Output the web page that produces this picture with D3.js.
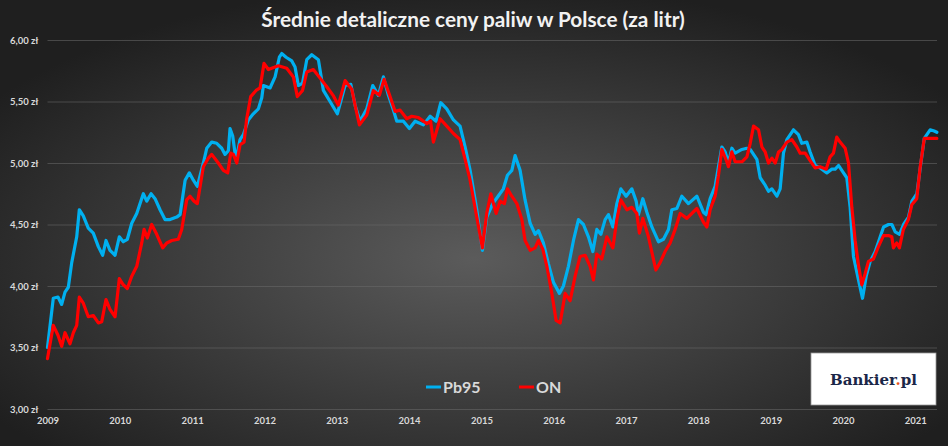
<!DOCTYPE html>
<html>
<head>
<meta charset="utf-8">
<script src="https://cdn.jsdelivr.net/npm/d3@7"></script>
<style>
  body { margin: 0; background: #222; }
  svg { display: block; }
</style>
</head>
<body>
<div id="chart"></div>
<script>
// Etykiety osi
const yearTicks = [2009, 2010, 2011, 2012, 2013, 2014, 2015, 2016, 2017, 2018, 2019, 2020, 2021];
const priceTicks = [3.0, 3.5, 4.0, 4.5, 5.0, 5.5, 6.0];
const seriesNames = ["Pb95", "ON"];

// Pb95 - data (ułamek roku) i cena
const pb95Years = [
  2009.00, 2009.08, 2009.145, 2009.196, 2009.242, 2009.288, 2009.335, 2009.404, 2009.44, 2009.495,
  2009.564, 2009.633, 2009.703, 2009.763, 2009.809, 2009.864, 2009.934, 2009.993, 2010.048, 2010.104,
  2010.165, 2010.234, 2010.325, 2010.372, 2010.432, 2010.487, 2010.556, 2010.625, 2010.694, 2010.787,
  2010.833, 2010.903, 2010.961, 2011.017, 2011.072, 2011.155, 2011.202, 2011.271, 2011.34, 2011.409,
  2011.455, 2011.501, 2011.524, 2011.561, 2011.607, 2011.662, 2011.708, 2011.777, 2011.846, 2011.916,
  2011.963, 2011.985, 2012.077, 2012.147, 2012.206, 2012.239, 2012.299, 2012.378, 2012.423, 2012.469,
  2012.527, 2012.585, 2012.654, 2012.746, 2012.815, 2012.907, 2013.008, 2013.115, 2013.194, 2013.253,
  2013.322, 2013.415, 2013.498, 2013.575, 2013.645, 2013.714, 2013.783, 2013.83, 2013.921, 2014.004,
  2014.083, 2014.198, 2014.291, 2014.373, 2014.438, 2014.521, 2014.613, 2014.705, 2014.775, 2014.844,
  2014.936, 2015.014, 2015.074, 2015.157, 2015.231, 2015.304, 2015.36, 2015.421, 2015.466, 2015.535,
  2015.604, 2015.674, 2015.743, 2015.789, 2015.857, 2015.927, 2015.996, 2016.079, 2016.134, 2016.203,
  2016.273, 2016.342, 2016.411, 2016.48, 2016.541, 2016.596, 2016.652, 2016.711, 2016.757, 2016.818,
  2016.873, 2016.928, 2017.001, 2017.08, 2017.14, 2017.172, 2017.232, 2017.288, 2017.357, 2017.448,
  2017.518, 2017.587, 2017.633, 2017.703, 2017.772, 2017.863, 2017.979, 2018.07, 2018.108, 2018.163,
  2018.232, 2018.278, 2018.325, 2018.371, 2018.416, 2018.463, 2018.509, 2018.602, 2018.671, 2018.717,
  2018.763, 2018.809, 2018.855, 2018.924, 2018.97, 2019.017, 2019.086, 2019.131, 2019.177, 2019.224,
  2019.315, 2019.384, 2019.431, 2019.5, 2019.546, 2019.615, 2019.684, 2019.777, 2019.846, 2019.892,
  2019.938, 2020.007, 2020.053, 2020.099, 2020.145, 2020.214, 2020.27, 2020.321, 2020.376, 2020.446,
  2020.515, 2020.561, 2020.63, 2020.676, 2020.722, 2020.782, 2020.837, 2020.906, 2020.953, 2021.022,
  2021.068, 2021.124, 2021.205, 2021.261, 2021.298
];
const pb95Values = [
  3.50, 3.90, 3.91, 3.85, 3.95, 3.99, 4.19, 4.40, 4.62, 4.57,
  4.47, 4.43, 4.32, 4.25, 4.37, 4.29, 4.25, 4.40, 4.36, 4.38,
  4.51, 4.59, 4.75, 4.69, 4.75, 4.71, 4.62, 4.54, 4.54, 4.56,
  4.58, 4.86, 4.92, 4.86, 4.81, 5.00, 5.12, 5.17, 5.16, 5.12,
  5.07, 5.10, 5.28, 5.22, 5.02, 5.19, 5.23, 5.35, 5.40, 5.44,
  5.53, 5.63, 5.61, 5.70, 5.86, 5.89, 5.86, 5.83, 5.78, 5.63,
  5.65, 5.84, 5.88, 5.84, 5.59, 5.50, 5.40, 5.63, 5.64, 5.47,
  5.34, 5.44, 5.63, 5.55, 5.70, 5.55, 5.43, 5.34, 5.34, 5.28,
  5.34, 5.31, 5.38, 5.34, 5.49, 5.44, 5.35, 5.30, 5.13, 4.94,
  4.62, 4.29, 4.56, 4.67, 4.73, 4.79, 4.90, 4.94, 5.06, 4.94,
  4.70, 4.51, 4.42, 4.45, 4.35, 4.18, 4.03, 3.94, 4.00, 4.16,
  4.37, 4.54, 4.50, 4.40, 4.28, 4.46, 4.42, 4.54, 4.58, 4.48,
  4.67, 4.79, 4.73, 4.79, 4.69, 4.58, 4.71, 4.60, 4.48, 4.36,
  4.38, 4.46, 4.62, 4.63, 4.73, 4.67, 4.73, 4.60, 4.58, 4.71,
  4.81, 4.97, 5.13, 5.09, 5.00, 5.12, 5.08, 5.11, 5.12, 5.11,
  5.07, 5.03, 4.88, 4.82, 4.77, 4.79, 4.73, 4.79, 5.08, 5.19,
  5.27, 5.23, 5.16, 5.17, 5.09, 4.98, 4.96, 4.92, 4.95, 4.95,
  4.98, 4.92, 4.88, 4.64, 4.24, 4.05, 3.90, 4.08, 4.20, 4.28,
  4.40, 4.48, 4.50, 4.50, 4.44, 4.42, 4.50, 4.56, 4.69, 4.75,
  4.96, 5.20, 5.27, 5.26, 5.25
];

// ON (olej napędowy)
const onYears = [
  2009.00, 2009.08, 2009.145, 2009.196, 2009.242, 2009.311, 2009.357, 2009.404, 2009.44, 2009.495,
  2009.564, 2009.633, 2009.703, 2009.75, 2009.809, 2009.864, 2009.934, 2009.993, 2010.048, 2010.104,
  2010.165, 2010.234, 2010.303, 2010.335, 2010.38, 2010.441, 2010.51, 2010.593, 2010.649, 2010.718,
  2010.809, 2010.856, 2010.925, 2010.971, 2011.026, 2011.072, 2011.155, 2011.224, 2011.271, 2011.362,
  2011.432, 2011.492, 2011.534, 2011.57, 2011.617, 2011.663, 2011.718, 2011.755, 2011.81, 2011.884,
  2011.939, 2011.994, 2012.054, 2012.192, 2012.308, 2012.40, 2012.455, 2012.527, 2012.585, 2012.676,
  2012.769, 2012.862, 2012.949, 2013.022, 2013.115, 2013.207, 2013.253, 2013.313, 2013.415, 2013.506,
  2013.589, 2013.654, 2013.737, 2013.806, 2013.876, 2013.968, 2014.037, 2014.129, 2014.245, 2014.297,
  2014.336, 2014.429, 2014.521, 2014.613, 2014.705, 2014.775, 2014.844, 2014.936, 2015.014, 2015.074,
  2015.13, 2015.203, 2015.259, 2015.318, 2015.36, 2015.421, 2015.49, 2015.559, 2015.604, 2015.674,
  2015.743, 2015.789, 2015.849, 2015.905, 2015.974, 2016.033, 2016.089, 2016.158, 2016.227, 2016.296,
  2016.365, 2016.434, 2016.503, 2016.549, 2016.596, 2016.665, 2016.734, 2016.818, 2016.873, 2016.928,
  2017.011, 2017.08, 2017.149, 2017.185, 2017.232, 2017.31, 2017.412, 2017.471, 2017.54, 2017.61,
  2017.679, 2017.748, 2017.841, 2017.979, 2018.07, 2018.118, 2018.163, 2018.232, 2018.278, 2018.325,
  2018.394, 2018.416, 2018.463, 2018.509, 2018.602, 2018.671, 2018.717, 2018.763, 2018.832, 2018.879,
  2018.924, 2018.97, 2019.017, 2019.063, 2019.109, 2019.156, 2019.224, 2019.293, 2019.362, 2019.408,
  2019.477, 2019.546, 2019.615, 2019.684, 2019.767, 2019.822, 2019.868, 2019.914, 2019.96, 2020.03,
  2020.076, 2020.122, 2020.168, 2020.214, 2020.26, 2020.306, 2020.352, 2020.421, 2020.49, 2020.56,
  2020.629, 2020.675, 2020.697, 2020.744, 2020.78, 2020.835, 2020.904, 2020.951, 2021.02, 2021.066,
  2021.124, 2021.298
];
const onValues = [
  3.41, 3.68, 3.60, 3.51, 3.62, 3.53, 3.62, 3.68, 3.91, 3.86,
  3.75, 3.76, 3.70, 3.71, 3.89, 3.81, 3.75, 4.06, 4.01, 3.98,
  4.08, 4.16, 4.35, 4.46, 4.39, 4.50, 4.42, 4.31, 4.35, 4.37,
  4.38, 4.46, 4.70, 4.73, 4.69, 4.67, 4.97, 5.04, 5.07, 5.00,
  4.94, 4.92, 5.08, 5.07, 5.00, 5.15, 5.17, 5.36, 5.54, 5.59,
  5.61, 5.81, 5.76, 5.79, 5.77, 5.70, 5.54, 5.59, 5.74, 5.76,
  5.69, 5.62, 5.55, 5.47, 5.67, 5.60, 5.47, 5.31, 5.39, 5.59,
  5.55, 5.68, 5.54, 5.42, 5.43, 5.36, 5.38, 5.37, 5.32, 5.34,
  5.17, 5.36, 5.30, 5.24, 5.19, 5.03, 4.86, 4.56, 4.31, 4.59,
  4.75, 4.59, 4.69, 4.67, 4.79, 4.73, 4.67, 4.54, 4.37, 4.29,
  4.31, 4.37, 4.30, 4.16, 3.94, 3.72, 3.70, 3.94, 3.88, 4.08,
  4.24, 4.25, 4.16, 4.05, 4.26, 4.22, 4.40, 4.31, 4.54, 4.70,
  4.62, 4.64, 4.59, 4.43, 4.55, 4.40, 4.13, 4.19, 4.28, 4.35,
  4.46, 4.59, 4.55, 4.63, 4.52, 4.48, 4.62, 4.73, 4.90, 5.11,
  5.01, 4.97, 5.09, 5.01, 5.01, 5.05, 5.16, 5.30, 5.27, 5.13,
  5.09, 5.00, 5.04, 5.00, 5.09, 5.11, 5.17, 5.19, 5.13, 5.08,
  5.08, 5.02, 4.96, 4.97, 4.95, 5.05, 5.08, 5.21, 5.17, 5.12,
  5.00, 4.64, 4.37, 4.17, 4.01, 4.10, 4.20, 4.22, 4.32, 4.41,
  4.41, 4.40, 4.31, 4.35, 4.31, 4.46, 4.54, 4.66, 4.71, 4.96,
  5.20, 5.20
];

const width = 948;
const height = 446;

function createFuelChart() {
  const svg = d3
    .select("#chart")
    .append("svg")
    .attr("width", width)
    .attr("height", height);

  // tło - gradient radialny
  const defs = svg.append("defs");
  const grad = defs
    .append("radialGradient")
    .attr("id", "bg")
    .attr("cx", "50%")
    .attr("cy", "58%")
    .attr("r", "62%");
  grad.append("stop").attr("offset", "0%").attr("stop-color", "#5b5b5b");
  grad.append("stop").attr("offset", "100%").attr("stop-color", "#1f1f1f");

  svg
    .append("rect")
    .attr("width", width)
    .attr("height", height)
    .attr("fill", "url(#bg)");

  // skale
  const x = d3.scaleLinear().domain([2009, 2021.3]).range([47.5, 937]);
  const y = d3.scaleLinear().domain([3, 6]).range([409, 40]);

  // oś Y z liniami siatki
  const yAxis = d3
    .axisLeft(y)
    .tickValues(priceTicks)
    .tickSize(-(x.range()[1] - x.range()[0]))
    .tickPadding(9)
    .tickFormat((d) => d.toFixed(2).replace(".", ",") + " zł");

  const gy = svg
    .append("g")
    .attr("transform", "translate(" + x.range()[0] + ",0)")
    .call(yAxis);
  gy.select(".domain").remove();
  gy.selectAll(".tick line").attr("stroke", "#6a6a6a").attr("stroke-opacity", 0.55);
  gy.selectAll(".tick text")
    .attr("fill", "#d9d9d9")
    .style("font-family", "Lato, 'Open Sans', sans-serif")
    .style("font-weight", "bold")
    .style("font-size", "9.5px");

  // oś X
  const xAxis = d3
    .axisBottom(x)
    .tickValues(yearTicks)
    .tickSize(0)
    .tickPadding(8)
    .tickFormat(d3.format("d"));

  const gx = svg
    .append("g")
    .attr("transform", "translate(0," + y(3) + ")")
    .call(xAxis);
  gx.select(".domain").remove();
  gx.selectAll(".tick text")
    .attr("fill", "#d9d9d9")
    .style("font-family", "Lato, 'Open Sans', sans-serif")
    .style("font-weight", "bold")
    .style("font-size", "9.5px");

  // linie
  const line = d3
    .line()
    .x((d) => x(d[0]))
    .y((d) => y(d[1]));

  const series = [
    { name: seriesNames[0], color: "#00b0f0", data: d3.zip(pb95Years, pb95Values) },
    { name: seriesNames[1], color: "#ff0000", data: d3.zip(onYears, onValues) },
  ];

  svg
    .selectAll(".series")
    .data(series)
    .enter()
    .append("path")
    .attr("class", "series")
    .attr("d", (d) => line(d.data))
    .attr("fill", "none")
    .attr("stroke", (d) => d.color)
    .attr("stroke-width", 3.2)
    .attr("stroke-linejoin", "round")
    .attr("stroke-linecap", "round");

  // tytuł
  svg
    .append("text")
    .attr("x", 473)
    .attr("y", 27)
    .attr("text-anchor", "middle")
    .attr("fill", "#f2f2f2")
    .style("font-family", "Lato, 'Open Sans', sans-serif")
    .style("font-weight", "bold")
    .style("font-size", "20.8px")
    .text("Średnie detaliczne ceny paliw w Polsce (za litr)");

  // legenda
  const legendX = [426, 519];
  const legend = svg
    .selectAll(".legend")
    .data(series)
    .enter()
    .append("g")
    .attr("class", "legend")
    .attr("transform", (d, i) => "translate(" + legendX[i] + ",387)");

  legend
    .append("line")
    .attr("x1", 0)
    .attr("x2", 15)
    .attr("stroke", (d) => d.color)
    .attr("stroke-width", 3);

  legend
    .append("text")
    .attr("x", 17)
    .attr("dy", "0.36em")
    .attr("fill", "#d9d9d9")
    .style("font-family", "Lato, 'Open Sans', sans-serif")
    .style("font-weight", "bold")
    .style("font-size", "16px")
    .text((d) => d.name);

  // logo Bankier.pl
  const logo = svg.append("g").attr("transform", "translate(811,353)");
  logo
    .append("rect")
    .attr("width", 125)
    .attr("height", 52)
    .attr("fill", "#ffffff")
    .attr("stroke", "#9a9a9a")
    .attr("stroke-width", 0.8);

  const logoText = logo
    .append("text")
    .attr("x", 62.5)
    .attr("y", 31.5)
    .attr("text-anchor", "middle")
    .attr("fill", "#1b2748")
    .style("font-family", "'DejaVu Serif', serif")
    .style("font-weight", "bold")
    .style("font-size", "15px");
  logoText.append("tspan").text("Bankier");
  logoText.append("tspan").attr("fill", "#e8541e").text(".");
  logoText.append("tspan").text("pl");
}

createFuelChart();
</script>
</body>
</html>
